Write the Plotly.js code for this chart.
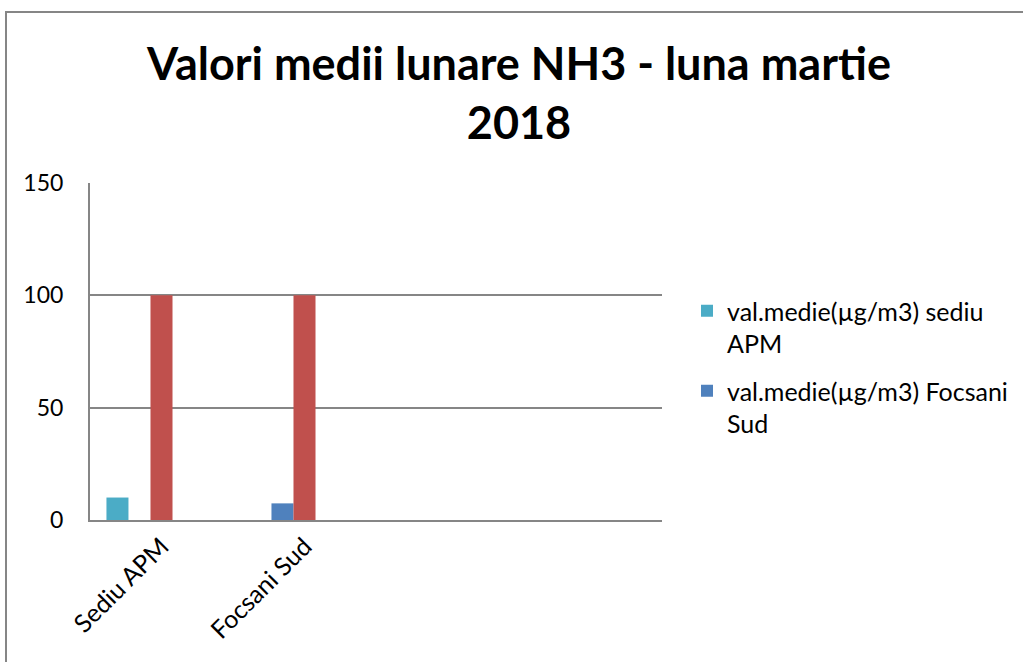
<!DOCTYPE html>
<html>
<head>
<meta charset="utf-8">
<script src="https://cdn.plot.ly/plotly-3.0.1.min.js"></script>
<style>
html,body{margin:0;padding:0;background:#fff;overflow:hidden;}
#chart{position:absolute;left:0;top:0;width:1023px;height:662px;}
#frame{position:absolute;left:5px;top:11px;width:2000px;height:2000px;border-left:2px solid #868686;border-top:2px solid #868686;pointer-events:none;z-index:10;}
</style>
</head>
<body>
<div id="chart"></div>
<div id="frame"></div>
<script>
// Data
var categories = ["Sediu APM", "Focsani Sud", " ", "  "];
var seriesNames = ["val.medie(µg/m3) sediu<br>APM", "val.medie(µg/m3) Focsani<br>Sud", "valoare limită", "serie 4", "serie 5"];
var sediuAPM = [10, 0, null, null];
var focsaniSud = [0, 7.4, null, null];
var valoareLimita = [100, 100, null, null];
var serie4 = [0, 0, null, null];
var serie5 = [0, 0, null, null];
var yTicks = [0, 50, 100, 150];

var colors = ["#4BACC6", "#4F81BD", "#C0504D", "#9BBB59", "#8064A2"];
var values = [sediuAPM, focsaniSud, valoareLimita, serie4, serie5];
var legendShown = [true, true, false, false, false];

var traces = values.map(function(v, i){
  return {
    type: "bar",
    x: categories,
    y: v,
    name: seriesNames[i],
    legendgroup: "g" + i,
    showlegend: legendShown[i],
    marker: {color: colors[i], line: {width: 0}},
    hoverinfo: "x+y+name"
  };
});

var layout = {
  width: 1023, height: 662,
  paper_bgcolor: "#ffffff", plot_bgcolor: "#ffffff",
  margin: {l: 90, r: 361, t: 183, b: 142, pad: 0},
  font: {family: "Lato, 'Open Sans', sans-serif", color: "#000"},
  title: {
    text: "Valori medii lunare NH3 - luna martie<br>2018",
    font: {family: "Lato, sans-serif", size: 45, weight: "bold", color: "#000"},
    x: 519/1023, xanchor: "center", xref: "container",
    y: 1 - 80/662, yanchor: "top", yref: "container"
  },
  barmode: "group",
  bargap: 0.23,
  bargroupgap: 0,
  xaxis: {
    type: "category",
    categoryorder: "array",
    categoryarray: categories,
    range: [-0.5, 3.5],
    tickangle: -45,
    tickfont: {family: "Lato, sans-serif", size: 25, color: "#000"},
    showgrid: false, zeroline: false,
    showline: true, linecolor: "#868686", linewidth: 2,
    ticks: "", fixedrange: true
  },
  yaxis: {
    range: [0, 150],
    tickvals: yTicks,
    ticktext: yTicks.map(String),
    tickfont: {family: "Lato, sans-serif", size: 23, color: "#000"},
    showgrid: true, gridcolor: "#868686", gridwidth: 2,
    zeroline: false,
    showline: true, linecolor: "#868686", linewidth: 2,
    ticks: "", ticklabelstandoff: 20, fixedrange: true
  },
  legend: {
    xref: "container", yref: "container",
    x: 687/1023, xanchor: "left",
    y: 1 - 288/662, yanchor: "top",
    font: {family: "Lato, sans-serif", size: 25, color: "#000"},
    valign: "top",
    tracegroupgap: 12,
    bgcolor: "rgba(0,0,0,0)"
  },
  showlegend: true
};

Plotly.newPlot("chart", traces, layout, {displayModeBar: false, staticPlot: true});
</script>
</body>
</html>
